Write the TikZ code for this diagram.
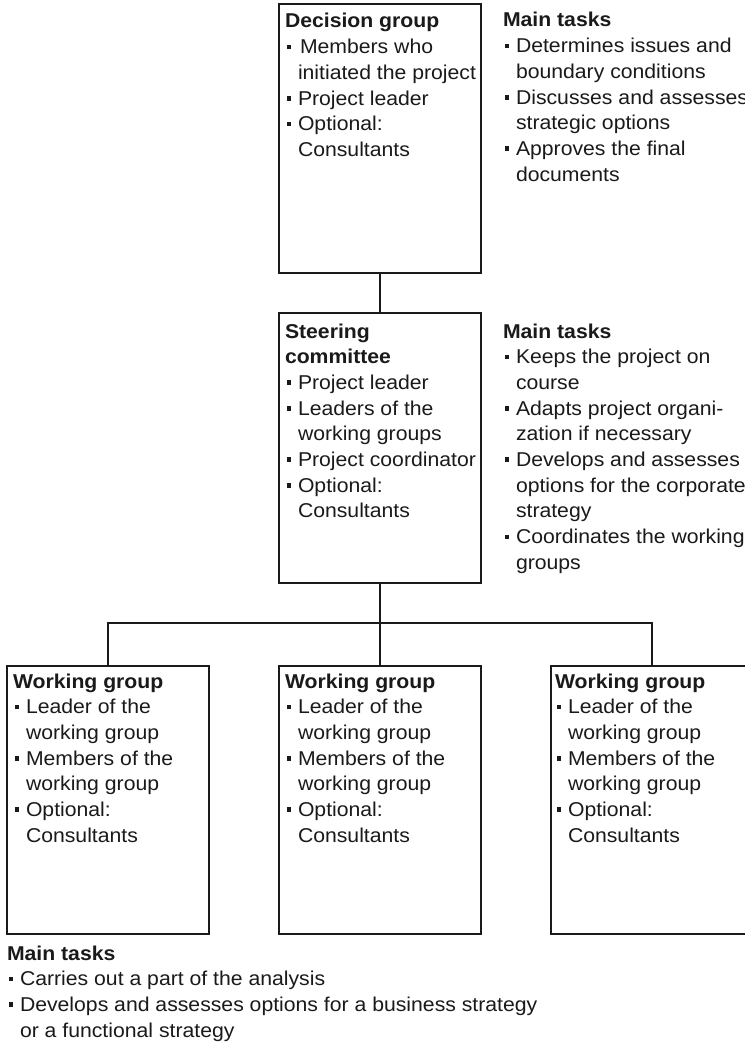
\documentclass[tikz,border=0pt]{standalone}
\usepackage{fontspec}
\setmainfont{Liberation Sans}[FakeStretch=1.06]
% bullet item, continuation indent and a top-aligned block of lines
\newcommand\itm{\hspace*{1.5pt}\makebox[11.5pt][l]{\rule[4.5pt]{4.6pt}{4.6pt}}}
\newcommand\cnt{\hspace*{13pt}}
\newcommand\lines[1]{\begin{tabular}[t]{@{}l@{}}#1\end{tabular}}
\definecolor{ink}{HTML}{1A1A1A}
\tikzset{
  box/.style={draw=ink, line width=2.6pt, inner sep=0pt, outer sep=0pt, rectangle},
  wire/.style={draw=ink, line width=2.6pt},
  txt/.style={anchor=base west, inner sep=0pt, outer sep=0pt, text=ink,
    font=\fontsize{20}{25.7}\selectfont},
}
\begin{document}
\begin{tikzpicture}[x=1pt, y=-1pt]
\useasboundingbox (0,0) rectangle (744,1043);
\fill[white] (0,0) rectangle (744,1043);

% boxes
\node[box, minimum width=202pt, minimum height=269pt] (dec)   at (380,138.5) {};
\node[box, minimum width=202pt, minimum height=270pt] (steer) at (380,448) {};
\node[box, minimum width=202pt, minimum height=268pt] (wga)   at (108,800) {};
\node[box, minimum width=202pt, minimum height=268pt] (wgb)   at (380,800) {};
\node[box, minimum width=202pt, minimum height=268pt] (wgc)   at (652,800) {};

% connectors
\coordinate (fork) at (380,623);
\draw[wire] (dec.south) -- (steer.north);
\draw[wire] (steer.south) -- (fork) -- (wgb.north);
\draw[wire] (wga.north) |- (fork) -| (wgc.north);

% box contents
\node[txt] (dect) at (285,28) {\lines{\textbf{Decision group}\\
  \itm\hspace*{2pt}Members who\\ \cnt initiated the project\\
  \itm Project leader\\ \itm Optional:\\ \cnt Consultants}};
\node[txt] (dectask) at (503,27) {\lines{\textbf{Main tasks}\\
  \itm Determines issues and\\ \cnt boundary conditions\\
  \itm Discusses and assesses\\ \cnt strategic options\\
  \itm Approves the final\\ \cnt documents}};

\node[txt] (steert) at (285,338) {\lines{\textbf{Steering}\\ \textbf{committee}\\
  \itm Project leader\\ \itm Leaders of the\\ \cnt working groups\\
  \itm Project coordinator\\ \itm Optional:\\ \cnt Consultants}};
\node[txt] (steertask) at (503,338) {\lines{\textbf{Main tasks}\\
  \itm Keeps the project on\\ \cnt course\\
  \itm Adapts project organi-\\ \cnt zation if necessary\\
  \itm Develops and assesses\\ \cnt options for the corporate\\ \cnt strategy\\
  \itm Coordinates the working\\ \cnt groups}};

\node[txt] (wgat) at (13,688) {\lines{\textbf{Working group}\\
  \itm Leader of the\\ \cnt working group\\
  \itm Members of the\\ \cnt working group\\
  \itm Optional:\\ \cnt Consultants}};
\node[txt] (wgbt) at (285,688) {\lines{\textbf{Working group}\\
  \itm Leader of the\\ \cnt working group\\
  \itm Members of the\\ \cnt working group\\
  \itm Optional:\\ \cnt Consultants}};
\node[txt] (wgct) at (555,688) {\lines{\textbf{Working group}\\
  \itm Leader of the\\ \cnt working group\\
  \itm Members of the\\ \cnt working group\\
  \itm Optional:\\ \cnt Consultants}};

\node[txt] (wgtask) at (7,960) {\lines{\textbf{Main tasks}\\
  \itm Carries out a part of the analysis\\
  \itm Develops and assesses options for a business strategy\\
  \cnt or a functional strategy}};
\end{tikzpicture}
\end{document}
